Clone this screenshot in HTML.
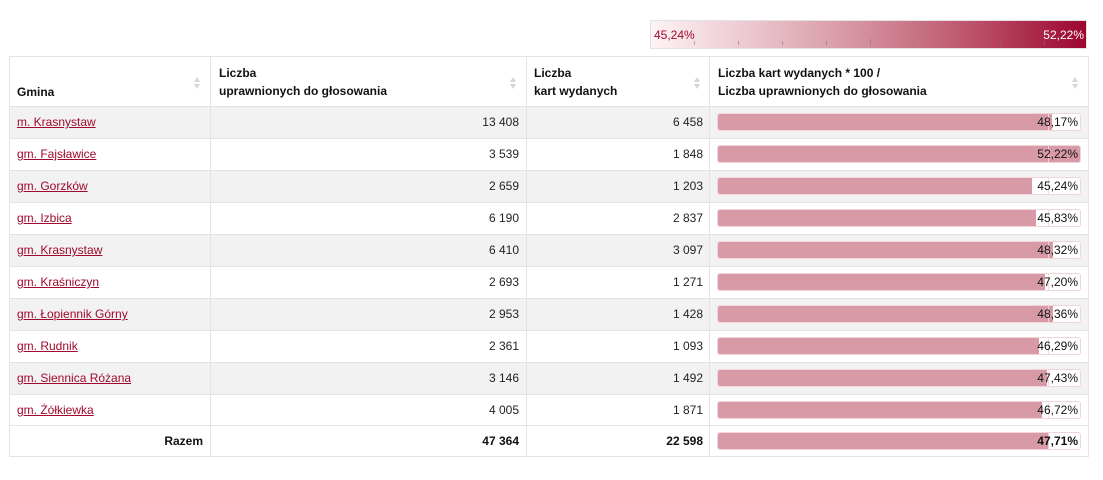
<!DOCTYPE html>
<html><head><meta charset="utf-8">
<style>
*{margin:0;padding:0;box-sizing:border-box}
body{width:1103px;height:480px;background:#fff;font-family:"Liberation Sans",sans-serif;font-size:12px;color:#222;position:relative;overflow:hidden}
.abs{position:absolute}
.legend{left:650px;top:20px;width:437px;height:29px;border:1px solid #e2e2e2;background:linear-gradient(to right,#fdf3f5 0%,#e9c3cb 25%,#d38d9c 50%,#bb4f68 75%,#9c0530 100%)}
.tick{position:absolute;width:1px;background:rgba(120,120,120,.55)}
.tbl{left:9px;top:56px;width:1080px;height:401px;border:1px solid #e3e3e3}
.row{position:absolute;left:0;width:1078px;border-top:1px solid #e3e3e3}
.vl{position:absolute;top:0;width:1px;height:399px;background:#e3e3e3}
.cell{position:absolute;white-space:nowrap;line-height:16px}
a{color:#a0092e;text-decoration:underline}
.num{text-align:right}
.hd{font-weight:bold;color:#111;line-height:18px}
.sort{position:absolute;width:7px;height:12px}
.sort:before{content:"";position:absolute;left:0;top:0;border-left:3.5px solid transparent;border-right:3.5px solid transparent;border-bottom:5px solid #d6d6d6}
.sort:after{content:"";position:absolute;left:0;top:7px;border-left:3.5px solid transparent;border-right:3.5px solid transparent;border-top:5px solid #d6d6d6}
.bar{position:absolute;left:707px;width:364px;height:18px;border:1px solid #f1d3da;border-radius:3px;background:#fff;overflow:hidden}
.fill{position:absolute;left:0;top:0;height:16px;background:#d99aa8;border-radius:2px 0 0 2px}
.mean{position:absolute;left:330px;top:0;width:1px;height:16px;background:rgba(245,215,222,.9)}
.pct{position:absolute;right:2px;top:0;line-height:16px;color:#111}
</style></head><body>

<div class="abs legend">
  <div class="abs" style="left:3px;top:6px;color:#a0092e;line-height:16px">45,24%</div>
  <div class="abs" style="right:2px;top:6px;color:#fff;line-height:16px">52,22%</div>
  <div class="tick" style="left:43px;top:20px;height:4px"></div>
  <div class="tick" style="left:87px;top:20px;height:4px"></div>
  <div class="tick" style="left:131px;top:20px;height:4px"></div>
  <div class="tick" style="left:175px;top:20px;height:4px"></div>
  <div class="tick" style="left:219px;top:18px;height:6px"></div>
  <div class="tick" style="left:262px;top:20px;height:4px"></div>
  <div class="tick" style="left:306px;top:20px;height:4px"></div>
  <div class="tick" style="left:349px;top:20px;height:4px"></div>
  <div class="tick" style="left:393px;top:20px;height:4px"></div>
</div>

<div class="abs tbl">
  <!-- row stripes -->
  <div class="row" style="top:49px;height:32px;background:#f2f2f2"></div>
  <div class="row" style="top:81px;height:32px;background:#fff"></div>
  <div class="row" style="top:113px;height:32px;background:#f2f2f2"></div>
  <div class="row" style="top:145px;height:32px;background:#fff"></div>
  <div class="row" style="top:177px;height:32px;background:#f2f2f2"></div>
  <div class="row" style="top:209px;height:32px;background:#fff"></div>
  <div class="row" style="top:241px;height:32px;background:#f2f2f2"></div>
  <div class="row" style="top:273px;height:32px;background:#fff"></div>
  <div class="row" style="top:305px;height:32px;background:#f2f2f2"></div>
  <div class="row" style="top:337px;height:32px;background:#fff"></div>
  <div class="row" style="top:368px;height:31px;background:#fff"></div>

  <div class="vl" style="left:200px"></div>
  <div class="vl" style="left:516px"></div>
  <div class="vl" style="left:699px"></div>

  <!-- header -->
  <div class="cell hd" style="left:7px;top:26px">Gmina</div>
  <div class="cell hd" style="left:209px;top:7px">Liczba<br>uprawnionych do głosowania</div>
  <div class="cell hd" style="left:524px;top:7px">Liczba<br>kart wydanych</div>
  <div class="cell hd" style="left:708px;top:7px">Liczba kart wydanych * 100 /<br>Liczba uprawnionych do głosowania</div>
  <div class="sort" style="left:184px;top:20px"></div>
  <div class="sort" style="left:500px;top:20px"></div>
  <div class="sort" style="left:684px;top:20px"></div>
  <div class="sort" style="left:1062px;top:20px"></div>

  <!-- rows -->
  <div class="cell" style="left:7px;top:57px"><a>m. Krasnystaw</a></div>
  <div class="cell num" style="right:569px;top:57px">13 408</div>
  <div class="cell num" style="right:385px;top:57px">6 458</div>
  <div class="bar" style="top:56px"><div class="fill" style="width:334px"></div><div class="mean"></div><div class="pct">48,17%</div></div>

  <div class="cell" style="left:7px;top:89px"><a>gm. Fajsławice</a></div>
  <div class="cell num" style="right:569px;top:89px">3 539</div>
  <div class="cell num" style="right:385px;top:89px">1 848</div>
  <div class="bar" style="top:88px"><div class="fill" style="width:362px"></div><div class="mean"></div><div class="pct">52,22%</div></div>

  <div class="cell" style="left:7px;top:121px"><a>gm. Gorzków</a></div>
  <div class="cell num" style="right:569px;top:121px">2 659</div>
  <div class="cell num" style="right:385px;top:121px">1 203</div>
  <div class="bar" style="top:120px"><div class="fill" style="width:314px"></div><div class="mean"></div><div class="pct">45,24%</div></div>

  <div class="cell" style="left:7px;top:153px"><a>gm. Izbica</a></div>
  <div class="cell num" style="right:569px;top:153px">6 190</div>
  <div class="cell num" style="right:385px;top:153px">2 837</div>
  <div class="bar" style="top:152px"><div class="fill" style="width:318px"></div><div class="mean"></div><div class="pct">45,83%</div></div>

  <div class="cell" style="left:7px;top:185px"><a>gm. Krasnystaw</a></div>
  <div class="cell num" style="right:569px;top:185px">6 410</div>
  <div class="cell num" style="right:385px;top:185px">3 097</div>
  <div class="bar" style="top:184px"><div class="fill" style="width:335px"></div><div class="mean"></div><div class="pct">48,32%</div></div>

  <div class="cell" style="left:7px;top:217px"><a>gm. Kraśniczyn</a></div>
  <div class="cell num" style="right:569px;top:217px">2 693</div>
  <div class="cell num" style="right:385px;top:217px">1 271</div>
  <div class="bar" style="top:216px"><div class="fill" style="width:327px"></div><div class="mean"></div><div class="pct">47,20%</div></div>

  <div class="cell" style="left:7px;top:249px"><a>gm. Łopiennik Górny</a></div>
  <div class="cell num" style="right:569px;top:249px">2 953</div>
  <div class="cell num" style="right:385px;top:249px">1 428</div>
  <div class="bar" style="top:248px"><div class="fill" style="width:335px"></div><div class="mean"></div><div class="pct">48,36%</div></div>

  <div class="cell" style="left:7px;top:281px"><a>gm. Rudnik</a></div>
  <div class="cell num" style="right:569px;top:281px">2 361</div>
  <div class="cell num" style="right:385px;top:281px">1 093</div>
  <div class="bar" style="top:280px"><div class="fill" style="width:321px"></div><div class="mean"></div><div class="pct">46,29%</div></div>

  <div class="cell" style="left:7px;top:313px"><a>gm. Siennica Różana</a></div>
  <div class="cell num" style="right:569px;top:313px">3 146</div>
  <div class="cell num" style="right:385px;top:313px">1 492</div>
  <div class="bar" style="top:312px"><div class="fill" style="width:329px"></div><div class="mean"></div><div class="pct">47,43%</div></div>

  <div class="cell" style="left:7px;top:345px"><a>gm. Żółkiewka</a></div>
  <div class="cell num" style="right:569px;top:345px">4 005</div>
  <div class="cell num" style="right:385px;top:345px">1 871</div>
  <div class="bar" style="top:344px"><div class="fill" style="width:324px"></div><div class="mean"></div><div class="pct">46,72%</div></div>

  <div class="cell num" style="right:885px;top:376px;font-weight:bold;color:#111">Razem</div>
  <div class="cell num" style="right:569px;top:376px;font-weight:bold;color:#111">47 364</div>
  <div class="cell num" style="right:385px;top:376px;font-weight:bold;color:#111">22 598</div>
  <div class="bar" style="top:375px"><div class="fill" style="width:331px"></div><div class="mean"></div><div class="pct" style="font-weight:bold">47,71%</div></div>
</div>

</body></html>
